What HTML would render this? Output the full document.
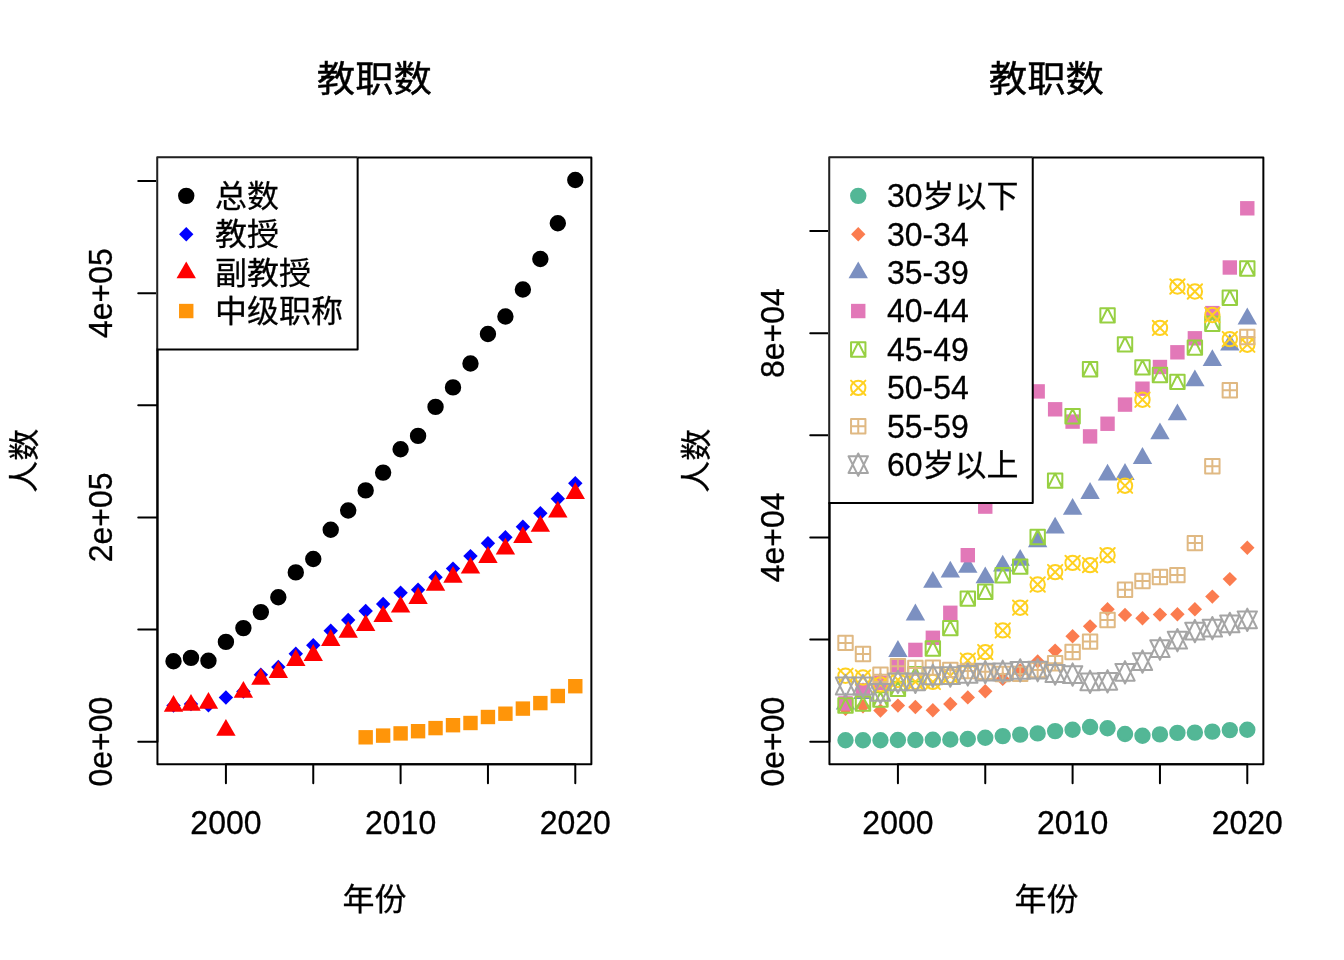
<!DOCTYPE html>
<html lang="zh"><head><meta charset="utf-8"><title>教职数</title>
<style>html,body{margin:0;padding:0;background:#fff}svg{display:block}</style></head>
<body>
<svg width="1344" height="960" viewBox="0 0 1344 960">
<rect width="1344" height="960" fill="#fff"/>
<circle cx="173.51" cy="661.25" r="7.2" fill="#000000" stroke="#000000" stroke-width="2"/>
<circle cx="190.98" cy="657.9" r="7.2" fill="#000000" stroke="#000000" stroke-width="2"/>
<circle cx="208.45" cy="660.8" r="7.2" fill="#000000" stroke="#000000" stroke-width="2"/>
<circle cx="225.92" cy="641.9" r="7.2" fill="#000000" stroke="#000000" stroke-width="2"/>
<circle cx="243.39" cy="628.1" r="7.2" fill="#000000" stroke="#000000" stroke-width="2"/>
<circle cx="260.85" cy="612.1" r="7.2" fill="#000000" stroke="#000000" stroke-width="2"/>
<circle cx="278.32" cy="597.3" r="7.2" fill="#000000" stroke="#000000" stroke-width="2"/>
<circle cx="295.79" cy="572.4" r="7.2" fill="#000000" stroke="#000000" stroke-width="2"/>
<circle cx="313.26" cy="559" r="7.2" fill="#000000" stroke="#000000" stroke-width="2"/>
<circle cx="330.73" cy="529.8" r="7.2" fill="#000000" stroke="#000000" stroke-width="2"/>
<circle cx="348.2" cy="510.5" r="7.2" fill="#000000" stroke="#000000" stroke-width="2"/>
<circle cx="365.67" cy="490.4" r="7.2" fill="#000000" stroke="#000000" stroke-width="2"/>
<circle cx="383.13" cy="472.6" r="7.2" fill="#000000" stroke="#000000" stroke-width="2"/>
<circle cx="400.6" cy="449.3" r="7.2" fill="#000000" stroke="#000000" stroke-width="2"/>
<circle cx="418.07" cy="435.9" r="7.2" fill="#000000" stroke="#000000" stroke-width="2"/>
<circle cx="435.54" cy="406.9" r="7.2" fill="#000000" stroke="#000000" stroke-width="2"/>
<circle cx="453.01" cy="387.4" r="7.2" fill="#000000" stroke="#000000" stroke-width="2"/>
<circle cx="470.48" cy="363.5" r="7.2" fill="#000000" stroke="#000000" stroke-width="2"/>
<circle cx="487.95" cy="334" r="7.2" fill="#000000" stroke="#000000" stroke-width="2"/>
<circle cx="505.41" cy="316.5" r="7.2" fill="#000000" stroke="#000000" stroke-width="2"/>
<circle cx="522.88" cy="289.5" r="7.2" fill="#000000" stroke="#000000" stroke-width="2"/>
<circle cx="540.35" cy="259" r="7.2" fill="#000000" stroke="#000000" stroke-width="2"/>
<circle cx="557.82" cy="223.25" r="7.2" fill="#000000" stroke="#000000" stroke-width="2"/>
<circle cx="575.29" cy="180" r="7.2" fill="#000000" stroke="#000000" stroke-width="2"/>
<path d="M166.31 705.6L173.51 698.4L180.71 705.6L173.51 712.8Z" fill="#0000FF"/>
<path d="M183.78 704L190.98 696.8L198.18 704L190.98 711.2Z" fill="#0000FF"/>
<path d="M201.25 705.3L208.45 698.1L215.65 705.3L208.45 712.5Z" fill="#0000FF"/>
<path d="M218.72 697.5L225.92 690.3L233.12 697.5L225.92 704.7Z" fill="#0000FF"/>
<path d="M236.19 691.5L243.39 684.3L250.59 691.5L243.39 698.7Z" fill="#0000FF"/>
<path d="M253.65 674.7L260.85 667.5L268.05 674.7L260.85 681.9Z" fill="#0000FF"/>
<path d="M271.12 667L278.32 659.8L285.52 667L278.32 674.2Z" fill="#0000FF"/>
<path d="M288.59 653.7L295.79 646.5L302.99 653.7L295.79 660.9Z" fill="#0000FF"/>
<path d="M306.06 645.3L313.26 638.1L320.46 645.3L313.26 652.5Z" fill="#0000FF"/>
<path d="M323.53 630.8L330.73 623.6L337.93 630.8L330.73 638Z" fill="#0000FF"/>
<path d="M341 620L348.2 612.8L355.4 620L348.2 627.2Z" fill="#0000FF"/>
<path d="M358.47 611L365.67 603.8L372.87 611L365.67 618.2Z" fill="#0000FF"/>
<path d="M375.93 604L383.13 596.8L390.33 604L383.13 611.2Z" fill="#0000FF"/>
<path d="M393.4 592.8L400.6 585.6L407.8 592.8L400.6 600Z" fill="#0000FF"/>
<path d="M410.87 589.8L418.07 582.6L425.27 589.8L418.07 597Z" fill="#0000FF"/>
<path d="M428.34 577.2L435.54 570L442.74 577.2L435.54 584.4Z" fill="#0000FF"/>
<path d="M445.81 568.6L453.01 561.4L460.21 568.6L453.01 575.8Z" fill="#0000FF"/>
<path d="M463.28 556.1L470.48 548.9L477.68 556.1L470.48 563.3Z" fill="#0000FF"/>
<path d="M480.75 543.3L487.95 536.1L495.15 543.3L487.95 550.5Z" fill="#0000FF"/>
<path d="M498.21 537.3L505.41 530.1L512.61 537.3L505.41 544.5Z" fill="#0000FF"/>
<path d="M515.68 526.7L522.88 519.5L530.08 526.7L522.88 533.9Z" fill="#0000FF"/>
<path d="M533.15 513.2L540.35 506L547.55 513.2L540.35 520.4Z" fill="#0000FF"/>
<path d="M550.62 498.8L557.82 491.6L565.02 498.8L557.82 506Z" fill="#0000FF"/>
<path d="M568.09 483.2L575.29 476L582.49 483.2L575.29 490.4Z" fill="#0000FF"/>
<path d="M173.51 695L183.21 711.8L163.81 711.8Z" fill="#FF0000"/>
<path d="M190.98 694L200.68 710.8L181.28 710.8Z" fill="#FF0000"/>
<path d="M208.45 691.9L218.15 708.7L198.75 708.7Z" fill="#FF0000"/>
<path d="M225.92 719L235.61 735.8L216.22 735.8Z" fill="#FF0000"/>
<path d="M243.39 681L253.08 697.8L233.69 697.8Z" fill="#FF0000"/>
<path d="M260.85 668L270.55 684.8L251.16 684.8Z" fill="#FF0000"/>
<path d="M278.32 661.1L288.02 677.9L268.63 677.9Z" fill="#FF0000"/>
<path d="M295.79 649.1L305.49 665.9L286.09 665.9Z" fill="#FF0000"/>
<path d="M313.26 644.1L322.96 660.9L303.56 660.9Z" fill="#FF0000"/>
<path d="M330.73 629.1L340.43 645.9L321.03 645.9Z" fill="#FF0000"/>
<path d="M348.2 620.9L357.89 637.7L338.5 637.7Z" fill="#FF0000"/>
<path d="M365.67 614.2L375.36 631L355.97 631Z" fill="#FF0000"/>
<path d="M383.13 605.2L392.83 622L373.44 622Z" fill="#FF0000"/>
<path d="M400.6 595.7L410.3 612.5L390.91 612.5Z" fill="#FF0000"/>
<path d="M418.07 587.1L427.77 603.9L408.37 603.9Z" fill="#FF0000"/>
<path d="M435.54 573.9L445.24 590.7L425.84 590.7Z" fill="#FF0000"/>
<path d="M453.01 566L462.71 582.8L443.31 582.8Z" fill="#FF0000"/>
<path d="M470.48 556.7L480.17 573.5L460.78 573.5Z" fill="#FF0000"/>
<path d="M487.95 546.1L497.64 562.9L478.25 562.9Z" fill="#FF0000"/>
<path d="M505.41 537.7L515.11 554.5L495.72 554.5Z" fill="#FF0000"/>
<path d="M522.88 526.3L532.58 543.1L513.19 543.1Z" fill="#FF0000"/>
<path d="M540.35 515L550.05 531.8L530.65 531.8Z" fill="#FF0000"/>
<path d="M557.82 500.7L567.52 517.5L548.12 517.5Z" fill="#FF0000"/>
<path d="M575.29 482.2L584.99 499L565.59 499Z" fill="#FF0000"/>
<rect x="358.47" y="730.1" width="14.4" height="14.4" fill="#FF9509"/>
<rect x="375.93" y="728.4" width="14.4" height="14.4" fill="#FF9509"/>
<rect x="393.4" y="726.2" width="14.4" height="14.4" fill="#FF9509"/>
<rect x="410.87" y="724" width="14.4" height="14.4" fill="#FF9509"/>
<rect x="428.34" y="720.9" width="14.4" height="14.4" fill="#FF9509"/>
<rect x="445.81" y="718" width="14.4" height="14.4" fill="#FF9509"/>
<rect x="463.28" y="715.8" width="14.4" height="14.4" fill="#FF9509"/>
<rect x="480.75" y="709.8" width="14.4" height="14.4" fill="#FF9509"/>
<rect x="498.21" y="706.5" width="14.4" height="14.4" fill="#FF9509"/>
<rect x="515.68" y="701.4" width="14.4" height="14.4" fill="#FF9509"/>
<rect x="533.15" y="695.9" width="14.4" height="14.4" fill="#FF9509"/>
<rect x="550.62" y="688.8" width="14.4" height="14.4" fill="#FF9509"/>
<rect x="568.09" y="679" width="14.4" height="14.4" fill="#FF9509"/>
<g stroke="#000" stroke-width="2" fill="none" stroke-linecap="round" stroke-linejoin="round">
<path d="M225.92 764.16H575.29M225.92 764.16v19.2M313.26 764.16v19.2M400.6 764.16v19.2M487.95 764.16v19.2M575.29 764.16v19.2"/>
<path d="M157.44 741.69V180.99M157.44 741.69h-19.2M157.44 629.55h-19.2M157.44 517.41h-19.2M157.44 405.27h-19.2M157.44 293.13h-19.2M157.44 180.99h-19.2"/>
<rect x="157.44" y="157.44" width="433.92" height="606.72"/>
</g>
<g font-family='"Liberation Sans", "Noto Sans CJK SC", sans-serif' font-size="32" fill="#000">
<text transform="translate(225.92 834) scale(1 1.03)" text-anchor="middle" stroke="#000" stroke-width="0.3">2000</text>
<text transform="translate(400.6 834) scale(1 1.03)" text-anchor="middle" stroke="#000" stroke-width="0.3">2010</text>
<text transform="translate(575.29 834) scale(1 1.03)" text-anchor="middle" stroke="#000" stroke-width="0.3">2020</text>
<text transform="translate(111.66 741.69) rotate(-90) scale(1 1.03)" text-anchor="middle" stroke="#000" stroke-width="0.3">0e+00</text>
<text transform="translate(111.66 517.41) rotate(-90) scale(1 1.03)" text-anchor="middle" stroke="#000" stroke-width="0.3">2e+05</text>
<text transform="translate(111.66 293.13) rotate(-90) scale(1 1.03)" text-anchor="middle" stroke="#000" stroke-width="0.3">4e+05</text>
<text transform="translate(374.4 910) scale(1 0.96)" text-anchor="middle" stroke="#000" stroke-width="0.3">年份</text>
<text transform="translate(34.56 460.8) rotate(-90) scale(1 0.96)" text-anchor="middle" stroke="#000" stroke-width="0.3">人数</text>
<text transform="translate(374.4 92) scale(1 0.96)" text-anchor="middle" font-size="38.4" stroke="#000" stroke-width="0.45">教职数</text>
</g>
<rect x="156.24" y="156.24" width="201.4" height="193.2" fill="#fff"/>
<path d="M157.24 349.44V157.24H357.64" fill="none" stroke="#222" stroke-width="2" stroke-linejoin="round"/>
<path d="M357.64 157.44V349.44H156.44" fill="none" stroke="#000" stroke-width="2" stroke-linejoin="round"/>
<g font-family='"Liberation Sans", "Noto Sans CJK SC", sans-serif' font-size="32" fill="#000">
<circle cx="186.24" cy="195.84" r="7.2" fill="#000000" stroke="#000000" stroke-width="2"/>
<text transform="translate(215.04 207) scale(1 0.96)" stroke="#000" stroke-width="0.3">总数</text>
<path d="M179.04 234.24L186.24 227.04L193.44 234.24L186.24 241.44Z" fill="#0000FF"/>
<text transform="translate(215.04 245) scale(1 0.96)" stroke="#000" stroke-width="0.3">教授</text>
<path d="M186.24 261.44L195.94 278.24L176.54 278.24Z" fill="#FF0000"/>
<text transform="translate(215.04 284) scale(1 0.96)" stroke="#000" stroke-width="0.3">副教授</text>
<rect x="179.04" y="303.84" width="14.4" height="14.4" fill="#FF9509"/>
<text transform="translate(215.04 322) scale(1 0.96)" stroke="#000" stroke-width="0.3">中级职称</text>
</g>
<circle cx="845.51" cy="740.3" r="7.2" fill="#53B796" stroke="#53B796" stroke-width="2"/>
<circle cx="862.98" cy="740.3" r="7.2" fill="#53B796" stroke="#53B796" stroke-width="2"/>
<circle cx="880.45" cy="740.3" r="7.2" fill="#53B796" stroke="#53B796" stroke-width="2"/>
<circle cx="897.92" cy="740" r="7.2" fill="#53B796" stroke="#53B796" stroke-width="2"/>
<circle cx="915.39" cy="740" r="7.2" fill="#53B796" stroke="#53B796" stroke-width="2"/>
<circle cx="932.85" cy="739.8" r="7.2" fill="#53B796" stroke="#53B796" stroke-width="2"/>
<circle cx="950.32" cy="739.5" r="7.2" fill="#53B796" stroke="#53B796" stroke-width="2"/>
<circle cx="967.79" cy="739" r="7.2" fill="#53B796" stroke="#53B796" stroke-width="2"/>
<circle cx="985.26" cy="737.8" r="7.2" fill="#53B796" stroke="#53B796" stroke-width="2"/>
<circle cx="1002.73" cy="736.1" r="7.2" fill="#53B796" stroke="#53B796" stroke-width="2"/>
<circle cx="1020.2" cy="734.6" r="7.2" fill="#53B796" stroke="#53B796" stroke-width="2"/>
<circle cx="1037.67" cy="733.4" r="7.2" fill="#53B796" stroke="#53B796" stroke-width="2"/>
<circle cx="1055.13" cy="731.1" r="7.2" fill="#53B796" stroke="#53B796" stroke-width="2"/>
<circle cx="1072.6" cy="729.8" r="7.2" fill="#53B796" stroke="#53B796" stroke-width="2"/>
<circle cx="1090.07" cy="727" r="7.2" fill="#53B796" stroke="#53B796" stroke-width="2"/>
<circle cx="1107.54" cy="728.3" r="7.2" fill="#53B796" stroke="#53B796" stroke-width="2"/>
<circle cx="1125.01" cy="734" r="7.2" fill="#53B796" stroke="#53B796" stroke-width="2"/>
<circle cx="1142.48" cy="735.7" r="7.2" fill="#53B796" stroke="#53B796" stroke-width="2"/>
<circle cx="1159.95" cy="734.4" r="7.2" fill="#53B796" stroke="#53B796" stroke-width="2"/>
<circle cx="1177.41" cy="732.9" r="7.2" fill="#53B796" stroke="#53B796" stroke-width="2"/>
<circle cx="1194.88" cy="732.6" r="7.2" fill="#53B796" stroke="#53B796" stroke-width="2"/>
<circle cx="1212.35" cy="731.6" r="7.2" fill="#53B796" stroke="#53B796" stroke-width="2"/>
<circle cx="1229.82" cy="730.1" r="7.2" fill="#53B796" stroke="#53B796" stroke-width="2"/>
<circle cx="1247.29" cy="729.8" r="7.2" fill="#53B796" stroke="#53B796" stroke-width="2"/>
<path d="M838.31 708.9L845.51 701.7L852.71 708.9L845.51 716.1Z" fill="#FB7C4F"/>
<path d="M855.78 706.3L862.98 699.1L870.18 706.3L862.98 713.5Z" fill="#FB7C4F"/>
<path d="M873.25 710.6L880.45 703.4L887.65 710.6L880.45 717.8Z" fill="#FB7C4F"/>
<path d="M890.72 705.6L897.92 698.4L905.12 705.6L897.92 712.8Z" fill="#FB7C4F"/>
<path d="M908.19 707L915.39 699.8L922.59 707L915.39 714.2Z" fill="#FB7C4F"/>
<path d="M925.65 710.2L932.85 703L940.05 710.2L932.85 717.4Z" fill="#FB7C4F"/>
<path d="M943.12 704L950.32 696.8L957.52 704L950.32 711.2Z" fill="#FB7C4F"/>
<path d="M960.59 697.4L967.79 690.2L974.99 697.4L967.79 704.6Z" fill="#FB7C4F"/>
<path d="M978.06 691.3L985.26 684.1L992.46 691.3L985.26 698.5Z" fill="#FB7C4F"/>
<path d="M995.53 678.9L1002.73 671.7L1009.93 678.9L1002.73 686.1Z" fill="#FB7C4F"/>
<path d="M1013 670.5L1020.2 663.3L1027.4 670.5L1020.2 677.7Z" fill="#FB7C4F"/>
<path d="M1030.47 661.4L1037.67 654.2L1044.87 661.4L1037.67 668.6Z" fill="#FB7C4F"/>
<path d="M1047.93 650.6L1055.13 643.4L1062.33 650.6L1055.13 657.8Z" fill="#FB7C4F"/>
<path d="M1065.4 636.25L1072.6 629.05L1079.8 636.25L1072.6 643.45Z" fill="#FB7C4F"/>
<path d="M1082.87 626.35L1090.07 619.15L1097.27 626.35L1090.07 633.55Z" fill="#FB7C4F"/>
<path d="M1100.34 609.2L1107.54 602L1114.74 609.2L1107.54 616.4Z" fill="#FB7C4F"/>
<path d="M1117.81 614.9L1125.01 607.7L1132.21 614.9L1125.01 622.1Z" fill="#FB7C4F"/>
<path d="M1135.28 618.3L1142.48 611.1L1149.68 618.3L1142.48 625.5Z" fill="#FB7C4F"/>
<path d="M1152.75 614.6L1159.95 607.4L1167.15 614.6L1159.95 621.8Z" fill="#FB7C4F"/>
<path d="M1170.21 614.2L1177.41 607L1184.61 614.2L1177.41 621.4Z" fill="#FB7C4F"/>
<path d="M1187.68 609.25L1194.88 602.05L1202.08 609.25L1194.88 616.45Z" fill="#FB7C4F"/>
<path d="M1205.15 596.6L1212.35 589.4L1219.55 596.6L1212.35 603.8Z" fill="#FB7C4F"/>
<path d="M1222.62 579.1L1229.82 571.9L1237.02 579.1L1229.82 586.3Z" fill="#FB7C4F"/>
<path d="M1240.09 547.8L1247.29 540.6L1254.49 547.8L1247.29 555Z" fill="#FB7C4F"/>
<path d="M845.51 692.6L855.21 709.4L835.81 709.4Z" fill="#7C90C1"/>
<path d="M862.98 682.2L872.68 699L853.28 699Z" fill="#7C90C1"/>
<path d="M880.45 671.8L890.15 688.6L870.75 688.6Z" fill="#7C90C1"/>
<path d="M897.92 640.1L907.61 656.9L888.22 656.9Z" fill="#7C90C1"/>
<path d="M915.39 603.6L925.08 620.4L905.69 620.4Z" fill="#7C90C1"/>
<path d="M932.85 570.9L942.55 587.7L923.16 587.7Z" fill="#7C90C1"/>
<path d="M950.32 560.8L960.02 577.6L940.63 577.6Z" fill="#7C90C1"/>
<path d="M967.79 556L977.49 572.8L958.09 572.8Z" fill="#7C90C1"/>
<path d="M985.26 566.5L994.96 583.3L975.56 583.3Z" fill="#7C90C1"/>
<path d="M1002.73 554.8L1012.43 571.6L993.03 571.6Z" fill="#7C90C1"/>
<path d="M1020.2 549L1029.89 565.8L1010.5 565.8Z" fill="#7C90C1"/>
<path d="M1037.67 530.5L1047.36 547.3L1027.97 547.3Z" fill="#7C90C1"/>
<path d="M1055.13 516.7L1064.83 533.5L1045.44 533.5Z" fill="#7C90C1"/>
<path d="M1072.6 498L1082.3 514.8L1062.91 514.8Z" fill="#7C90C1"/>
<path d="M1090.07 482.1L1099.77 498.9L1080.37 498.9Z" fill="#7C90C1"/>
<path d="M1107.54 463.8L1117.24 480.6L1097.84 480.6Z" fill="#7C90C1"/>
<path d="M1125.01 463.1L1134.71 479.9L1115.31 479.9Z" fill="#7C90C1"/>
<path d="M1142.48 447.1L1152.17 463.9L1132.78 463.9Z" fill="#7C90C1"/>
<path d="M1159.95 422.5L1169.64 439.3L1150.25 439.3Z" fill="#7C90C1"/>
<path d="M1177.41 403.4L1187.11 420.2L1167.72 420.2Z" fill="#7C90C1"/>
<path d="M1194.88 369.5L1204.58 386.3L1185.19 386.3Z" fill="#7C90C1"/>
<path d="M1212.35 349.3L1222.05 366.1L1202.65 366.1Z" fill="#7C90C1"/>
<path d="M1229.82 333.7L1239.52 350.5L1220.12 350.5Z" fill="#7C90C1"/>
<path d="M1247.29 307.6L1256.99 324.4L1237.59 324.4Z" fill="#7C90C1"/>
<rect x="838.31" y="696.2" width="14.4" height="14.4" fill="#E278B8"/>
<rect x="855.78" y="683.2" width="14.4" height="14.4" fill="#E278B8"/>
<rect x="873.25" y="675.6" width="14.4" height="14.4" fill="#E278B8"/>
<rect x="890.72" y="658.1" width="14.4" height="14.4" fill="#E278B8"/>
<rect x="908.19" y="642.7" width="14.4" height="14.4" fill="#E278B8"/>
<rect x="925.65" y="630.6" width="14.4" height="14.4" fill="#E278B8"/>
<rect x="943.12" y="605.6" width="14.4" height="14.4" fill="#E278B8"/>
<rect x="960.59" y="548" width="14.4" height="14.4" fill="#E278B8"/>
<rect x="978.06" y="499.4" width="14.4" height="14.4" fill="#E278B8"/>
<rect x="995.53" y="454.8" width="14.4" height="14.4" fill="#E278B8"/>
<rect x="1013" y="416.8" width="14.4" height="14.4" fill="#E278B8"/>
<rect x="1030.47" y="384.2" width="14.4" height="14.4" fill="#E278B8"/>
<rect x="1047.93" y="402.1" width="14.4" height="14.4" fill="#E278B8"/>
<rect x="1065.4" y="414.4" width="14.4" height="14.4" fill="#E278B8"/>
<rect x="1082.87" y="429.2" width="14.4" height="14.4" fill="#E278B8"/>
<rect x="1100.34" y="416.55" width="14.4" height="14.4" fill="#E278B8"/>
<rect x="1117.81" y="397.4" width="14.4" height="14.4" fill="#E278B8"/>
<rect x="1135.28" y="381.5" width="14.4" height="14.4" fill="#E278B8"/>
<rect x="1152.75" y="359.8" width="14.4" height="14.4" fill="#E278B8"/>
<rect x="1170.21" y="345.1" width="14.4" height="14.4" fill="#E278B8"/>
<rect x="1187.68" y="331.1" width="14.4" height="14.4" fill="#E278B8"/>
<rect x="1205.15" y="305.9" width="14.4" height="14.4" fill="#E278B8"/>
<rect x="1222.62" y="260.3" width="14.4" height="14.4" fill="#E278B8"/>
<rect x="1240.09" y="201.1" width="14.4" height="14.4" fill="#E278B8"/>
<path d="M845.51 698.3L852.71 712.7L838.31 712.7Z M838.31 698.3H852.71V712.7H838.31Z" fill="none" stroke="#97D042" stroke-width="2" stroke-linejoin="round"/>
<path d="M862.98 696.4L870.18 710.8L855.78 710.8Z M855.78 696.4H870.18V710.8H855.78Z" fill="none" stroke="#97D042" stroke-width="2" stroke-linejoin="round"/>
<path d="M880.45 692.3L887.65 706.7L873.25 706.7Z M873.25 692.3H887.65V706.7H873.25Z" fill="none" stroke="#97D042" stroke-width="2" stroke-linejoin="round"/>
<path d="M897.92 681.7L905.12 696.1L890.72 696.1Z M890.72 681.7H905.12V696.1H890.72Z" fill="none" stroke="#97D042" stroke-width="2" stroke-linejoin="round"/>
<path d="M915.39 667L922.59 681.4L908.19 681.4Z M908.19 667H922.59V681.4H908.19Z" fill="none" stroke="#97D042" stroke-width="2" stroke-linejoin="round"/>
<path d="M932.85 641.3L940.05 655.7L925.65 655.7Z M925.65 641.3H940.05V655.7H925.65Z" fill="none" stroke="#97D042" stroke-width="2" stroke-linejoin="round"/>
<path d="M950.32 620.9L957.52 635.3L943.12 635.3Z M943.12 620.9H957.52V635.3H943.12Z" fill="none" stroke="#97D042" stroke-width="2" stroke-linejoin="round"/>
<path d="M967.79 591.4L974.99 605.8L960.59 605.8Z M960.59 591.4H974.99V605.8H960.59Z" fill="none" stroke="#97D042" stroke-width="2" stroke-linejoin="round"/>
<path d="M985.26 584.6L992.46 599L978.06 599Z M978.06 584.6H992.46V599H978.06Z" fill="none" stroke="#97D042" stroke-width="2" stroke-linejoin="round"/>
<path d="M1002.73 568.1L1009.93 582.5L995.53 582.5Z M995.53 568.1H1009.93V582.5H995.53Z" fill="none" stroke="#97D042" stroke-width="2" stroke-linejoin="round"/>
<path d="M1020.2 559.4L1027.4 573.8L1013 573.8Z M1013 559.4H1027.4V573.8H1013Z" fill="none" stroke="#97D042" stroke-width="2" stroke-linejoin="round"/>
<path d="M1037.67 529.8L1044.87 544.2L1030.47 544.2Z M1030.47 529.8H1044.87V544.2H1030.47Z" fill="none" stroke="#97D042" stroke-width="2" stroke-linejoin="round"/>
<path d="M1055.13 473.4L1062.33 487.8L1047.93 487.8Z M1047.93 473.4H1062.33V487.8H1047.93Z" fill="none" stroke="#97D042" stroke-width="2" stroke-linejoin="round"/>
<path d="M1072.6 409L1079.8 423.4L1065.4 423.4Z M1065.4 409H1079.8V423.4H1065.4Z" fill="none" stroke="#97D042" stroke-width="2" stroke-linejoin="round"/>
<path d="M1090.07 362.05L1097.27 376.45L1082.87 376.45Z M1082.87 362.05H1097.27V376.45H1082.87Z" fill="none" stroke="#97D042" stroke-width="2" stroke-linejoin="round"/>
<path d="M1107.54 308.2L1114.74 322.6L1100.34 322.6Z M1100.34 308.2H1114.74V322.6H1100.34Z" fill="none" stroke="#97D042" stroke-width="2" stroke-linejoin="round"/>
<path d="M1125.01 337.2L1132.21 351.6L1117.81 351.6Z M1117.81 337.2H1132.21V351.6H1117.81Z" fill="none" stroke="#97D042" stroke-width="2" stroke-linejoin="round"/>
<path d="M1142.48 360.2L1149.68 374.6L1135.28 374.6Z M1135.28 360.2H1149.68V374.6H1135.28Z" fill="none" stroke="#97D042" stroke-width="2" stroke-linejoin="round"/>
<path d="M1159.95 367.8L1167.15 382.2L1152.75 382.2Z M1152.75 367.8H1167.15V382.2H1152.75Z" fill="none" stroke="#97D042" stroke-width="2" stroke-linejoin="round"/>
<path d="M1177.41 374.7L1184.61 389.1L1170.21 389.1Z M1170.21 374.7H1184.61V389.1H1170.21Z" fill="none" stroke="#97D042" stroke-width="2" stroke-linejoin="round"/>
<path d="M1194.88 340.4L1202.08 354.8L1187.68 354.8Z M1187.68 340.4H1202.08V354.8H1187.68Z" fill="none" stroke="#97D042" stroke-width="2" stroke-linejoin="round"/>
<path d="M1212.35 316.5L1219.55 330.9L1205.15 330.9Z M1205.15 316.5H1219.55V330.9H1205.15Z" fill="none" stroke="#97D042" stroke-width="2" stroke-linejoin="round"/>
<path d="M1229.82 290.5L1237.02 304.9L1222.62 304.9Z M1222.62 290.5H1237.02V304.9H1222.62Z" fill="none" stroke="#97D042" stroke-width="2" stroke-linejoin="round"/>
<path d="M1247.29 261.3L1254.49 275.7L1240.09 275.7Z M1240.09 261.3H1254.49V275.7H1240.09Z" fill="none" stroke="#97D042" stroke-width="2" stroke-linejoin="round"/>
<g fill="none" stroke="#FFD120" stroke-width="2" stroke-linecap="round"><circle cx="845.51" cy="675.8" r="7.2"/><path d="M838.31 668.6L852.71 683M838.31 683L852.71 668.6"/></g>
<g fill="none" stroke="#FFD120" stroke-width="2" stroke-linecap="round"><circle cx="862.98" cy="677.5" r="7.2"/><path d="M855.78 670.3L870.18 684.7M855.78 684.7L870.18 670.3"/></g>
<g fill="none" stroke="#FFD120" stroke-width="2" stroke-linecap="round"><circle cx="880.45" cy="684.4" r="7.2"/><path d="M873.25 677.2L887.65 691.6M873.25 691.6L887.65 677.2"/></g>
<g fill="none" stroke="#FFD120" stroke-width="2" stroke-linecap="round"><circle cx="897.92" cy="680" r="7.2"/><path d="M890.72 672.8L905.12 687.2M890.72 687.2L905.12 672.8"/></g>
<g fill="none" stroke="#FFD120" stroke-width="2" stroke-linecap="round"><circle cx="915.39" cy="681.8" r="7.2"/><path d="M908.19 674.6L922.59 689M908.19 689L922.59 674.6"/></g>
<g fill="none" stroke="#FFD120" stroke-width="2" stroke-linecap="round"><circle cx="932.85" cy="681.9" r="7.2"/><path d="M925.65 674.7L940.05 689.1M925.65 689.1L940.05 674.7"/></g>
<g fill="none" stroke="#FFD120" stroke-width="2" stroke-linecap="round"><circle cx="950.32" cy="675.7" r="7.2"/><path d="M943.12 668.5L957.52 682.9M943.12 682.9L957.52 668.5"/></g>
<g fill="none" stroke="#FFD120" stroke-width="2" stroke-linecap="round"><circle cx="967.79" cy="660.6" r="7.2"/><path d="M960.59 653.4L974.99 667.8M960.59 667.8L974.99 653.4"/></g>
<g fill="none" stroke="#FFD120" stroke-width="2" stroke-linecap="round"><circle cx="985.26" cy="652.1" r="7.2"/><path d="M978.06 644.9L992.46 659.3M978.06 659.3L992.46 644.9"/></g>
<g fill="none" stroke="#FFD120" stroke-width="2" stroke-linecap="round"><circle cx="1002.73" cy="630.4" r="7.2"/><path d="M995.53 623.2L1009.93 637.6M995.53 637.6L1009.93 623.2"/></g>
<g fill="none" stroke="#FFD120" stroke-width="2" stroke-linecap="round"><circle cx="1020.2" cy="607.7" r="7.2"/><path d="M1013 600.5L1027.4 614.9M1013 614.9L1027.4 600.5"/></g>
<g fill="none" stroke="#FFD120" stroke-width="2" stroke-linecap="round"><circle cx="1037.67" cy="584.5" r="7.2"/><path d="M1030.47 577.3L1044.87 591.7M1030.47 591.7L1044.87 577.3"/></g>
<g fill="none" stroke="#FFD120" stroke-width="2" stroke-linecap="round"><circle cx="1055.13" cy="572.1" r="7.2"/><path d="M1047.93 564.9L1062.33 579.3M1047.93 579.3L1062.33 564.9"/></g>
<g fill="none" stroke="#FFD120" stroke-width="2" stroke-linecap="round"><circle cx="1072.6" cy="562.9" r="7.2"/><path d="M1065.4 555.7L1079.8 570.1M1065.4 570.1L1079.8 555.7"/></g>
<g fill="none" stroke="#FFD120" stroke-width="2" stroke-linecap="round"><circle cx="1090.07" cy="565.1" r="7.2"/><path d="M1082.87 557.9L1097.27 572.3M1082.87 572.3L1097.27 557.9"/></g>
<g fill="none" stroke="#FFD120" stroke-width="2" stroke-linecap="round"><circle cx="1107.54" cy="555.2" r="7.2"/><path d="M1100.34 548L1114.74 562.4M1100.34 562.4L1114.74 548"/></g>
<g fill="none" stroke="#FFD120" stroke-width="2" stroke-linecap="round"><circle cx="1125.01" cy="485.7" r="7.2"/><path d="M1117.81 478.5L1132.21 492.9M1117.81 492.9L1132.21 478.5"/></g>
<g fill="none" stroke="#FFD120" stroke-width="2" stroke-linecap="round"><circle cx="1142.48" cy="399.7" r="7.2"/><path d="M1135.28 392.5L1149.68 406.9M1135.28 406.9L1149.68 392.5"/></g>
<g fill="none" stroke="#FFD120" stroke-width="2" stroke-linecap="round"><circle cx="1159.95" cy="327.9" r="7.2"/><path d="M1152.75 320.7L1167.15 335.1M1152.75 335.1L1167.15 320.7"/></g>
<g fill="none" stroke="#FFD120" stroke-width="2" stroke-linecap="round"><circle cx="1177.41" cy="286.5" r="7.2"/><path d="M1170.21 279.3L1184.61 293.7M1170.21 293.7L1184.61 279.3"/></g>
<g fill="none" stroke="#FFD120" stroke-width="2" stroke-linecap="round"><circle cx="1194.88" cy="291.5" r="7.2"/><path d="M1187.68 284.3L1202.08 298.7M1187.68 298.7L1202.08 284.3"/></g>
<g fill="none" stroke="#FFD120" stroke-width="2" stroke-linecap="round"><circle cx="1212.35" cy="315" r="7.2"/><path d="M1205.15 307.8L1219.55 322.2M1205.15 322.2L1219.55 307.8"/></g>
<g fill="none" stroke="#FFD120" stroke-width="2" stroke-linecap="round"><circle cx="1229.82" cy="339.1" r="7.2"/><path d="M1222.62 331.9L1237.02 346.3M1222.62 346.3L1237.02 331.9"/></g>
<g fill="none" stroke="#FFD120" stroke-width="2" stroke-linecap="round"><circle cx="1247.29" cy="344.7" r="7.2"/><path d="M1240.09 337.5L1254.49 351.9M1240.09 351.9L1254.49 337.5"/></g>
<path d="M838.31 642.9H852.71M845.51 635.7V650.1M838.31 635.7H852.71V650.1H838.31Z" fill="none" stroke="#E0B983" stroke-width="2" stroke-linejoin="round" stroke-linecap="round"/>
<path d="M855.78 654H870.18M862.98 646.8V661.2M855.78 646.8H870.18V661.2H855.78Z" fill="none" stroke="#E0B983" stroke-width="2" stroke-linejoin="round" stroke-linecap="round"/>
<path d="M873.25 674.8H887.65M880.45 667.6V682M873.25 667.6H887.65V682H873.25Z" fill="none" stroke="#E0B983" stroke-width="2" stroke-linejoin="round" stroke-linecap="round"/>
<path d="M890.72 666.2H905.12M897.92 659V673.4M890.72 659H905.12V673.4H890.72Z" fill="none" stroke="#E0B983" stroke-width="2" stroke-linejoin="round" stroke-linecap="round"/>
<path d="M908.19 667.9H922.59M915.39 660.7V675.1M908.19 660.7H922.59V675.1H908.19Z" fill="none" stroke="#E0B983" stroke-width="2" stroke-linejoin="round" stroke-linecap="round"/>
<path d="M925.65 667.6H940.05M932.85 660.4V674.8M925.65 660.4H940.05V674.8H925.65Z" fill="none" stroke="#E0B983" stroke-width="2" stroke-linejoin="round" stroke-linecap="round"/>
<path d="M943.12 669.9H957.52M950.32 662.7V677.1M943.12 662.7H957.52V677.1H943.12Z" fill="none" stroke="#E0B983" stroke-width="2" stroke-linejoin="round" stroke-linecap="round"/>
<path d="M960.59 671H974.99M967.79 663.8V678.2M960.59 663.8H974.99V678.2H960.59Z" fill="none" stroke="#E0B983" stroke-width="2" stroke-linejoin="round" stroke-linecap="round"/>
<path d="M978.06 671.8H992.46M985.26 664.6V679M978.06 664.6H992.46V679H978.06Z" fill="none" stroke="#E0B983" stroke-width="2" stroke-linejoin="round" stroke-linecap="round"/>
<path d="M995.53 674H1009.93M1002.73 666.8V681.2M995.53 666.8H1009.93V681.2H995.53Z" fill="none" stroke="#E0B983" stroke-width="2" stroke-linejoin="round" stroke-linecap="round"/>
<path d="M1013 673.9H1027.4M1020.2 666.7V681.1M1013 666.7H1027.4V681.1H1013Z" fill="none" stroke="#E0B983" stroke-width="2" stroke-linejoin="round" stroke-linecap="round"/>
<path d="M1030.47 670H1044.87M1037.67 662.8V677.2M1030.47 662.8H1044.87V677.2H1030.47Z" fill="none" stroke="#E0B983" stroke-width="2" stroke-linejoin="round" stroke-linecap="round"/>
<path d="M1047.93 663.3H1062.33M1055.13 656.1V670.5M1047.93 656.1H1062.33V670.5H1047.93Z" fill="none" stroke="#E0B983" stroke-width="2" stroke-linejoin="round" stroke-linecap="round"/>
<path d="M1065.4 652H1079.8M1072.6 644.8V659.2M1065.4 644.8H1079.8V659.2H1065.4Z" fill="none" stroke="#E0B983" stroke-width="2" stroke-linejoin="round" stroke-linecap="round"/>
<path d="M1082.87 641.6H1097.27M1090.07 634.4V648.8M1082.87 634.4H1097.27V648.8H1082.87Z" fill="none" stroke="#E0B983" stroke-width="2" stroke-linejoin="round" stroke-linecap="round"/>
<path d="M1100.34 620H1114.74M1107.54 612.8V627.2M1100.34 612.8H1114.74V627.2H1100.34Z" fill="none" stroke="#E0B983" stroke-width="2" stroke-linejoin="round" stroke-linecap="round"/>
<path d="M1117.81 589.8H1132.21M1125.01 582.6V597M1117.81 582.6H1132.21V597H1117.81Z" fill="none" stroke="#E0B983" stroke-width="2" stroke-linejoin="round" stroke-linecap="round"/>
<path d="M1135.28 581H1149.68M1142.48 573.8V588.2M1135.28 573.8H1149.68V588.2H1135.28Z" fill="none" stroke="#E0B983" stroke-width="2" stroke-linejoin="round" stroke-linecap="round"/>
<path d="M1152.75 577H1167.15M1159.95 569.8V584.2M1152.75 569.8H1167.15V584.2H1152.75Z" fill="none" stroke="#E0B983" stroke-width="2" stroke-linejoin="round" stroke-linecap="round"/>
<path d="M1170.21 575.1H1184.61M1177.41 567.9V582.3M1170.21 567.9H1184.61V582.3H1170.21Z" fill="none" stroke="#E0B983" stroke-width="2" stroke-linejoin="round" stroke-linecap="round"/>
<path d="M1187.68 543.1H1202.08M1194.88 535.9V550.3M1187.68 535.9H1202.08V550.3H1187.68Z" fill="none" stroke="#E0B983" stroke-width="2" stroke-linejoin="round" stroke-linecap="round"/>
<path d="M1205.15 466.2H1219.55M1212.35 459V473.4M1205.15 459H1219.55V473.4H1205.15Z" fill="none" stroke="#E0B983" stroke-width="2" stroke-linejoin="round" stroke-linecap="round"/>
<path d="M1222.62 390.3H1237.02M1229.82 383.1V397.5M1222.62 383.1H1237.02V397.5H1222.62Z" fill="none" stroke="#E0B983" stroke-width="2" stroke-linejoin="round" stroke-linecap="round"/>
<path d="M1240.09 337H1254.49M1247.29 329.8V344.2M1240.09 329.8H1254.49V344.2H1240.09Z" fill="none" stroke="#E0B983" stroke-width="2" stroke-linejoin="round" stroke-linecap="round"/>
<path d="M845.51 697.2L855.21 677.6L835.81 677.6Z M845.51 674.8L855.21 694.4L835.81 694.4Z" fill="none" stroke="#A5A5A5" stroke-width="2" stroke-linejoin="round"/>
<path d="M862.98 697.2L872.68 677.6L853.28 677.6Z M862.98 674.8L872.68 694.4L853.28 694.4Z" fill="none" stroke="#A5A5A5" stroke-width="2" stroke-linejoin="round"/>
<path d="M880.45 703.5L890.15 683.9L870.75 683.9Z M880.45 681.1L890.15 700.7L870.75 700.7Z" fill="none" stroke="#A5A5A5" stroke-width="2" stroke-linejoin="round"/>
<path d="M897.92 693.1L907.61 673.5L888.22 673.5Z M897.92 670.7L907.61 690.3L888.22 690.3Z" fill="none" stroke="#A5A5A5" stroke-width="2" stroke-linejoin="round"/>
<path d="M915.39 693L925.08 673.4L905.69 673.4Z M915.39 670.6L925.08 690.2L905.69 690.2Z" fill="none" stroke="#A5A5A5" stroke-width="2" stroke-linejoin="round"/>
<path d="M932.85 687L942.55 667.4L923.16 667.4Z M932.85 664.6L942.55 684.2L923.16 684.2Z" fill="none" stroke="#A5A5A5" stroke-width="2" stroke-linejoin="round"/>
<path d="M950.32 686.8L960.02 667.2L940.63 667.2Z M950.32 664.4L960.02 684L940.63 684Z" fill="none" stroke="#A5A5A5" stroke-width="2" stroke-linejoin="round"/>
<path d="M967.79 685.6L977.49 666L958.09 666Z M967.79 663.2L977.49 682.8L958.09 682.8Z" fill="none" stroke="#A5A5A5" stroke-width="2" stroke-linejoin="round"/>
<path d="M985.26 683.3L994.96 663.7L975.56 663.7Z M985.26 660.9L994.96 680.5L975.56 680.5Z" fill="none" stroke="#A5A5A5" stroke-width="2" stroke-linejoin="round"/>
<path d="M1002.73 683L1012.43 663.4L993.03 663.4Z M1002.73 660.6L1012.43 680.2L993.03 680.2Z" fill="none" stroke="#A5A5A5" stroke-width="2" stroke-linejoin="round"/>
<path d="M1020.2 681.6L1029.89 662L1010.5 662Z M1020.2 659.2L1029.89 678.8L1010.5 678.8Z" fill="none" stroke="#A5A5A5" stroke-width="2" stroke-linejoin="round"/>
<path d="M1037.67 681.4L1047.36 661.8L1027.97 661.8Z M1037.67 659L1047.36 678.6L1027.97 678.6Z" fill="none" stroke="#A5A5A5" stroke-width="2" stroke-linejoin="round"/>
<path d="M1055.13 684.7L1064.83 665.1L1045.44 665.1Z M1055.13 662.3L1064.83 681.9L1045.44 681.9Z" fill="none" stroke="#A5A5A5" stroke-width="2" stroke-linejoin="round"/>
<path d="M1072.6 685.8L1082.3 666.2L1062.91 666.2Z M1072.6 663.4L1082.3 683L1062.91 683Z" fill="none" stroke="#A5A5A5" stroke-width="2" stroke-linejoin="round"/>
<path d="M1090.07 693L1099.77 673.4L1080.37 673.4Z M1090.07 670.6L1099.77 690.2L1080.37 690.2Z" fill="none" stroke="#A5A5A5" stroke-width="2" stroke-linejoin="round"/>
<path d="M1107.54 692.5L1117.24 672.9L1097.84 672.9Z M1107.54 670.1L1117.24 689.7L1097.84 689.7Z" fill="none" stroke="#A5A5A5" stroke-width="2" stroke-linejoin="round"/>
<path d="M1125.01 683.5L1134.71 663.9L1115.31 663.9Z M1125.01 661.1L1134.71 680.7L1115.31 680.7Z" fill="none" stroke="#A5A5A5" stroke-width="2" stroke-linejoin="round"/>
<path d="M1142.48 672.8L1152.17 653.2L1132.78 653.2Z M1142.48 650.4L1152.17 670L1132.78 670Z" fill="none" stroke="#A5A5A5" stroke-width="2" stroke-linejoin="round"/>
<path d="M1159.95 659.9L1169.64 640.3L1150.25 640.3Z M1159.95 637.5L1169.64 657.1L1150.25 657.1Z" fill="none" stroke="#A5A5A5" stroke-width="2" stroke-linejoin="round"/>
<path d="M1177.41 651.4L1187.11 631.8L1167.72 631.8Z M1177.41 629L1187.11 648.6L1167.72 648.6Z" fill="none" stroke="#A5A5A5" stroke-width="2" stroke-linejoin="round"/>
<path d="M1194.88 642.3L1204.58 622.7L1185.19 622.7Z M1194.88 619.9L1204.58 639.5L1185.19 639.5Z" fill="none" stroke="#A5A5A5" stroke-width="2" stroke-linejoin="round"/>
<path d="M1212.35 639.4L1222.05 619.8L1202.65 619.8Z M1212.35 617L1222.05 636.6L1202.65 636.6Z" fill="none" stroke="#A5A5A5" stroke-width="2" stroke-linejoin="round"/>
<path d="M1229.82 635.1L1239.52 615.5L1220.12 615.5Z M1229.82 612.7L1239.52 632.3L1220.12 632.3Z" fill="none" stroke="#A5A5A5" stroke-width="2" stroke-linejoin="round"/>
<path d="M1247.29 631L1256.99 611.4L1237.59 611.4Z M1247.29 608.6L1256.99 628.2L1237.59 628.2Z" fill="none" stroke="#A5A5A5" stroke-width="2" stroke-linejoin="round"/>
<g stroke="#000" stroke-width="2" fill="none" stroke-linecap="round" stroke-linejoin="round">
<path d="M897.92 764.16H1247.29M897.92 764.16v19.2M985.26 764.16v19.2M1072.6 764.16v19.2M1159.95 764.16v19.2M1247.29 764.16v19.2"/>
<path d="M829.44 741.69V230.99M829.44 741.69h-19.2M829.44 639.55h-19.2M829.44 537.41h-19.2M829.44 435.27h-19.2M829.44 333.13h-19.2M829.44 230.99h-19.2"/>
<rect x="829.44" y="157.44" width="433.92" height="606.72"/>
</g>
<g font-family='"Liberation Sans", "Noto Sans CJK SC", sans-serif' font-size="32" fill="#000">
<text transform="translate(897.92 834) scale(1 1.03)" text-anchor="middle" stroke="#000" stroke-width="0.3">2000</text>
<text transform="translate(1072.6 834) scale(1 1.03)" text-anchor="middle" stroke="#000" stroke-width="0.3">2010</text>
<text transform="translate(1247.29 834) scale(1 1.03)" text-anchor="middle" stroke="#000" stroke-width="0.3">2020</text>
<text transform="translate(783.66 741.69) rotate(-90) scale(1 1.03)" text-anchor="middle" stroke="#000" stroke-width="0.3">0e+00</text>
<text transform="translate(783.66 537.41) rotate(-90) scale(1 1.03)" text-anchor="middle" stroke="#000" stroke-width="0.3">4e+04</text>
<text transform="translate(783.66 333.13) rotate(-90) scale(1 1.03)" text-anchor="middle" stroke="#000" stroke-width="0.3">8e+04</text>
<text transform="translate(1046.4 910) scale(1 0.96)" text-anchor="middle" stroke="#000" stroke-width="0.3">年份</text>
<text transform="translate(706.56 460.8) rotate(-90) scale(1 0.96)" text-anchor="middle" stroke="#000" stroke-width="0.3">人数</text>
<text transform="translate(1046.4 92) scale(1 0.96)" text-anchor="middle" font-size="38.4" stroke="#000" stroke-width="0.45">教职数</text>
</g>
<rect x="828.24" y="156.24" width="204.5" height="346.8" fill="#fff"/>
<path d="M829.24 503.04V157.24H1032.74" fill="none" stroke="#222" stroke-width="2" stroke-linejoin="round"/>
<path d="M1032.74 157.44V503.04H828.44" fill="none" stroke="#000" stroke-width="2" stroke-linejoin="round"/>
<g font-family='"Liberation Sans", "Noto Sans CJK SC", sans-serif' font-size="32" fill="#000">
<circle cx="858.24" cy="195.84" r="7.2" fill="#53B796" stroke="#53B796" stroke-width="2"/>
<text transform="translate(887.04 207) scale(1 1.03)" stroke="#000" stroke-width="0.3">30</text><text transform="translate(922.62 207) scale(1 0.96)" stroke="#000" stroke-width="0.3">岁以下</text>
<path d="M851.04 234.24L858.24 227.04L865.44 234.24L858.24 241.44Z" fill="#FB7C4F"/>
<text transform="translate(887.04 246) scale(1 1.03)" stroke="#000" stroke-width="0.3">30-34</text>
<path d="M858.24 261.44L867.94 278.24L848.54 278.24Z" fill="#7C90C1"/>
<text transform="translate(887.04 284) scale(1 1.03)" stroke="#000" stroke-width="0.3">35-39</text>
<rect x="851.04" y="303.84" width="14.4" height="14.4" fill="#E278B8"/>
<text transform="translate(887.04 322) scale(1 1.03)" stroke="#000" stroke-width="0.3">40-44</text>
<path d="M858.24 342.24L865.44 356.64L851.04 356.64Z M851.04 342.24H865.44V356.64H851.04Z" fill="none" stroke="#97D042" stroke-width="2" stroke-linejoin="round"/>
<text transform="translate(887.04 361) scale(1 1.03)" stroke="#000" stroke-width="0.3">45-49</text>
<g fill="none" stroke="#FFD120" stroke-width="2" stroke-linecap="round"><circle cx="858.24" cy="387.84" r="7.2"/><path d="M851.04 380.64L865.44 395.04M851.04 395.04L865.44 380.64"/></g>
<text transform="translate(887.04 399) scale(1 1.03)" stroke="#000" stroke-width="0.3">50-54</text>
<path d="M851.04 426.24H865.44M858.24 419.04V433.44M851.04 419.04H865.44V433.44H851.04Z" fill="none" stroke="#E0B983" stroke-width="2" stroke-linejoin="round" stroke-linecap="round"/>
<text transform="translate(887.04 438) scale(1 1.03)" stroke="#000" stroke-width="0.3">55-59</text>
<path d="M858.24 475.84L867.94 456.24L848.54 456.24Z M858.24 453.44L867.94 473.04L848.54 473.04Z" fill="none" stroke="#A5A5A5" stroke-width="2" stroke-linejoin="round"/>
<text transform="translate(887.04 476) scale(1 1.03)" stroke="#000" stroke-width="0.3">60</text><text transform="translate(922.62 476) scale(1 0.96)" stroke="#000" stroke-width="0.3">岁以上</text>
</g>
</svg>
</body></html>
